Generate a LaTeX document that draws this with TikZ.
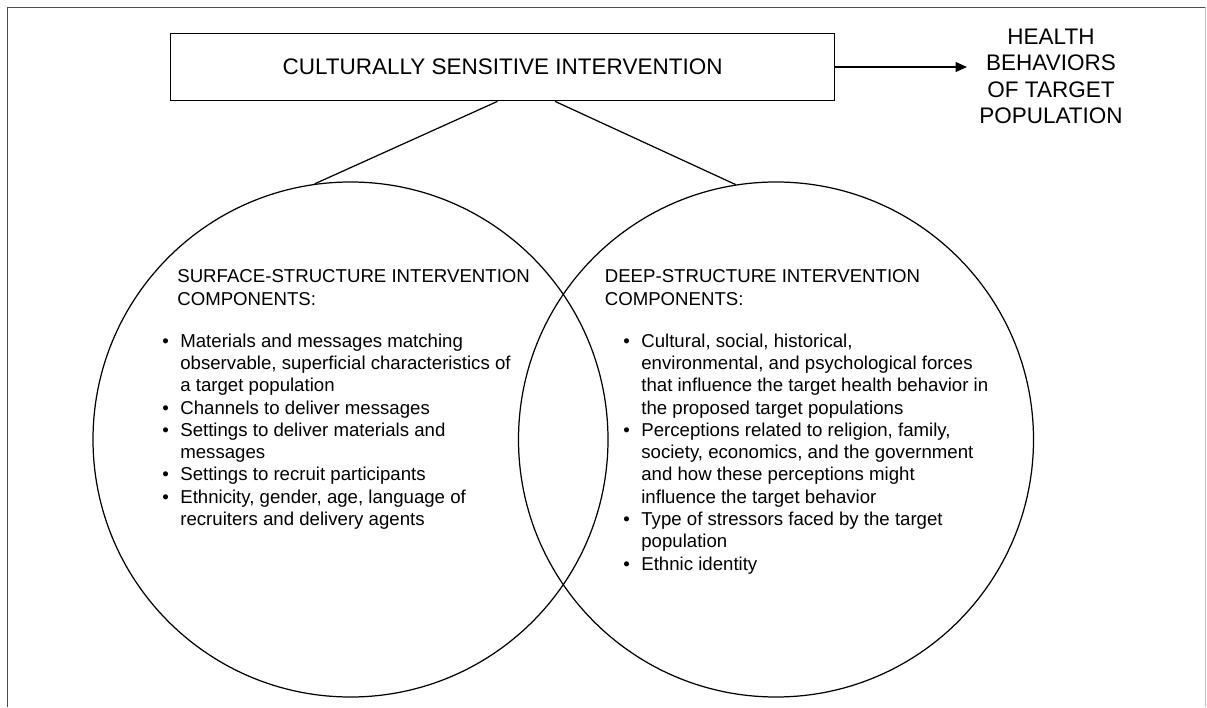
\documentclass[tikz,border=0pt]{standalone}
\usepackage{fontspec}
\setmainfont{Liberation Sans}
\usetikzlibrary{arrows.meta,positioning}

% bullet and hanging indent for the component lists
\newcommand{\bitem}{\makebox[0.36cm][l]{\textbullet}}
\newcommand{\bcont}{\hspace*{0.36cm}}

\begin{document}
\begin{tikzpicture}[
    main box/.style={
        rectangle, draw, line width=0.7pt,
        minimum width=13.29cm, minimum height=1.35cm,
        font=\fontsize{12.8}{15.1}\selectfont
    },
    venn/.style={
        circle, draw, line width=0.7pt,
        minimum size=10.3cm, inner sep=0pt
    },
    head style/.style={
        anchor=north west, inner sep=0pt, align=left,
        font=\fontsize{10.6}{12.7}\selectfont
    },
    list style/.style={
        anchor=north west, inner sep=0pt, align=left,
        font=\fontsize{10.6}{12.7}\selectfont
    }
]
\useasboundingbox (0,0) rectangle (24.14,14.14);

% Outer frame (open at the bottom)
\draw[black!70, line width=0.5pt] (0.14,0) -- (0.14,13.99) -- (24.11,13.99);
\draw[black!25, line width=0.5pt] (24.11,13.99) -- (24.11,0);

% Intervention box and outcome
\node[main box] (csi) at (10.05,12.8) {CULTURALLY SENSITIVE INTERVENTION};

\node[align=center, anchor=north, inner xsep=0.24cm, inner ysep=0pt,
      font=\fontsize{12.8}{15.1}\selectfont] (health) at (21.02,13.57)
    {HEALTH\\BEHAVIORS\\OF TARGET\\POPULATION};

\draw[-{Triangle[length=2.3mm,width=2mm]}, line width=0.7pt]
    (csi.east) -- (csi.east -| health.west);

% The two overlapping circles
\node[venn] (surface) at (7.01,5.35) {};
\node[venn] (deep) at (15.52,5.35) {};

\draw[line width=0.7pt] ([xshift=-0.1cm]csi.south) -- (surface.98);
\draw[line width=0.7pt] ([xshift=1.05cm]csi.south) -- (deep.99);

% Surface-structure components
\node[head style] (surfhead) at (3.54,8.75) {
    SURFACE-STRUCTURE INTERVENTION\\
    COMPONENTS:
};
\node[below=0.55cm of surfhead.south west, list style, xshift=-0.3cm] (surflist) {
    \bitem Materials and messages matching\\
    \bcont observable, superficial characteristics of\\
    \bcont a target population\\
    \bitem Channels to deliver messages\\
    \bitem Settings to deliver materials and\\
    \bcont messages\\
    \bitem Settings to recruit participants\\
    \bitem Ethnicity, gender, age, language of\\
    \bcont recruiters and delivery agents
};

% Deep-structure components
\node[head style] (deephead) at (12.09,8.75) {
    DEEP-STRUCTURE INTERVENTION\\
    COMPONENTS:
};
\node[below=0.55cm of deephead.south west, list style, xshift=0.37cm] (deeplist) {
    \bitem Cultural, social, historical,\\
    \bcont environmental, and psychological forces\\
    \bcont that influence the target health behavior in\\
    \bcont the proposed target populations\\
    \bitem Perceptions related to religion, family,\\
    \bcont society, economics, and the government\\
    \bcont and how these perceptions might\\
    \bcont influence the target behavior\\
    \bitem Type of stressors faced by the target\\
    \bcont population\\
    \bitem Ethnic identity
};

\end{tikzpicture}
\end{document}
